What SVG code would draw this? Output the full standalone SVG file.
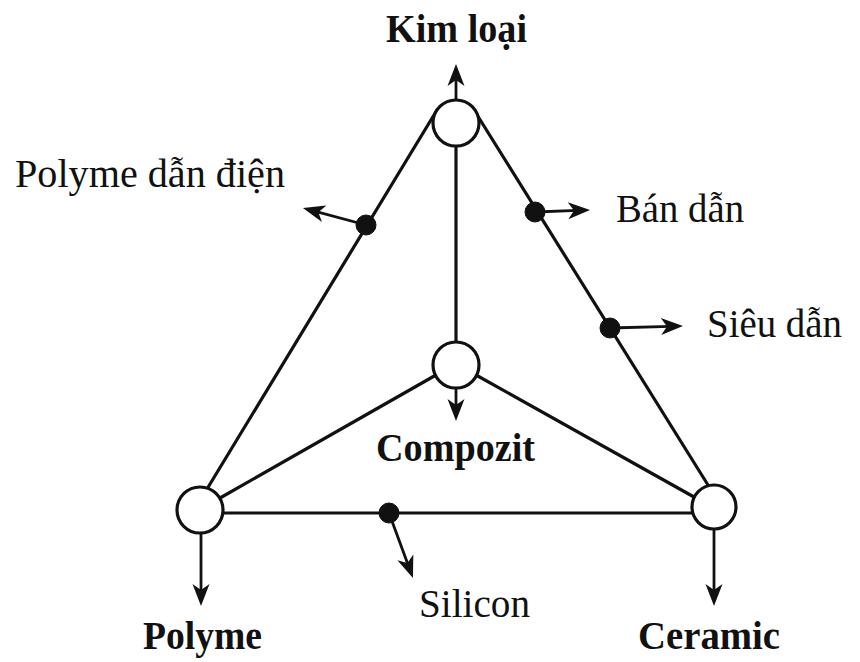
<svg xmlns="http://www.w3.org/2000/svg" width="860" height="662" viewBox="0 0 860 662">
<style>
.ln{stroke:#111;stroke-width:3.2;fill:none;stroke-linecap:round}
.ar{stroke:#111;stroke-width:2.8;fill:none;marker-end:url(#ah)}
.nd{fill:#fff;stroke:#111;stroke-width:3.2}
.dt{fill:#111;stroke:#111;stroke-width:1}
.t{font-family:"Liberation Serif","Times New Roman",serif;font-size:41px;fill:#111}
.b{font-weight:bold}
</style>
<defs>
<marker id="ah" viewBox="-1 -10 25 20" markerWidth="25" markerHeight="20" refX="10" refY="0" markerUnits="userSpaceOnUse" orient="auto">
<path d="M0,-8.5 L22,0 L0,8.5 L6,0 z" fill="#111"/>
</marker>
</defs>
<g id="connectors">
<line class="ln" x1="437" y1="110" x2="207" y2="489"/>
<line class="ln" x1="474" y1="110" x2="708" y2="485"/>
<line class="ln" x1="456" y1="146" x2="456" y2="342"/>
<line class="ln" x1="436" y1="375" x2="220" y2="498"/>
<line class="ln" x1="476" y1="375" x2="694" y2="497"/>
<line class="ln" x1="222" y1="513" x2="692" y2="513"/>
<line class="ar" x1="456" y1="100" x2="456" y2="76"/>
<line class="ar" x1="456" y1="388" x2="456" y2="409"/>
<line class="ar" x1="201" y1="533" x2="201" y2="594"/>
<line class="ar" x1="714" y1="530" x2="714" y2="594"/>
<line class="ar" x1="366" y1="225" x2="314.5" y2="211.1"/>
<line class="ar" x1="535" y1="212" x2="578" y2="210.4"/>
<line class="ar" x1="610" y1="328" x2="671" y2="326.3"/>
<line class="ar" x1="389" y1="513" x2="408.8" y2="566.7"/>
</g>
<g id="kimloai">
<circle class="nd" cx="456" cy="123" r="23"/>
<text class="t b" x="386" y="42" textLength="141" lengthAdjust="spacingAndGlyphs">Kim loại</text>
</g>
<g id="compozit">
<circle class="nd" cx="456" cy="365" r="23"/>
<text class="t b" x="376" y="461" textLength="159" lengthAdjust="spacingAndGlyphs">Compozit</text>
</g>
<g id="polyme">
<circle class="nd" cx="200" cy="510" r="23"/>
<text class="t b" x="143" y="649" textLength="119" lengthAdjust="spacingAndGlyphs">Polyme</text>
</g>
<g id="ceramic">
<circle class="nd" cx="714" cy="507" r="22"/>
<text class="t b" x="638" y="649" textLength="142" lengthAdjust="spacingAndGlyphs">Ceramic</text>
</g>
<g id="polyme-dan-dien">
<circle class="dt" cx="366" cy="225" r="10"/>
<text class="t" x="15" y="187" textLength="270" lengthAdjust="spacingAndGlyphs">Polyme dẫn điện</text>
</g>
<g id="ban-dan">
<circle class="dt" cx="535" cy="212" r="10"/>
<text class="t" x="616" y="222" textLength="128" lengthAdjust="spacingAndGlyphs">Bán dẫn</text>
</g>
<g id="sieu-dan">
<circle class="dt" cx="610" cy="328" r="10"/>
<text class="t" x="707" y="337" textLength="135" lengthAdjust="spacingAndGlyphs">Siêu dẫn</text>
</g>
<g id="silicon">
<circle class="dt" cx="389" cy="513" r="10"/>
<text class="t" x="419" y="617" textLength="111" lengthAdjust="spacingAndGlyphs">Silicon</text>
</g>
</svg>
